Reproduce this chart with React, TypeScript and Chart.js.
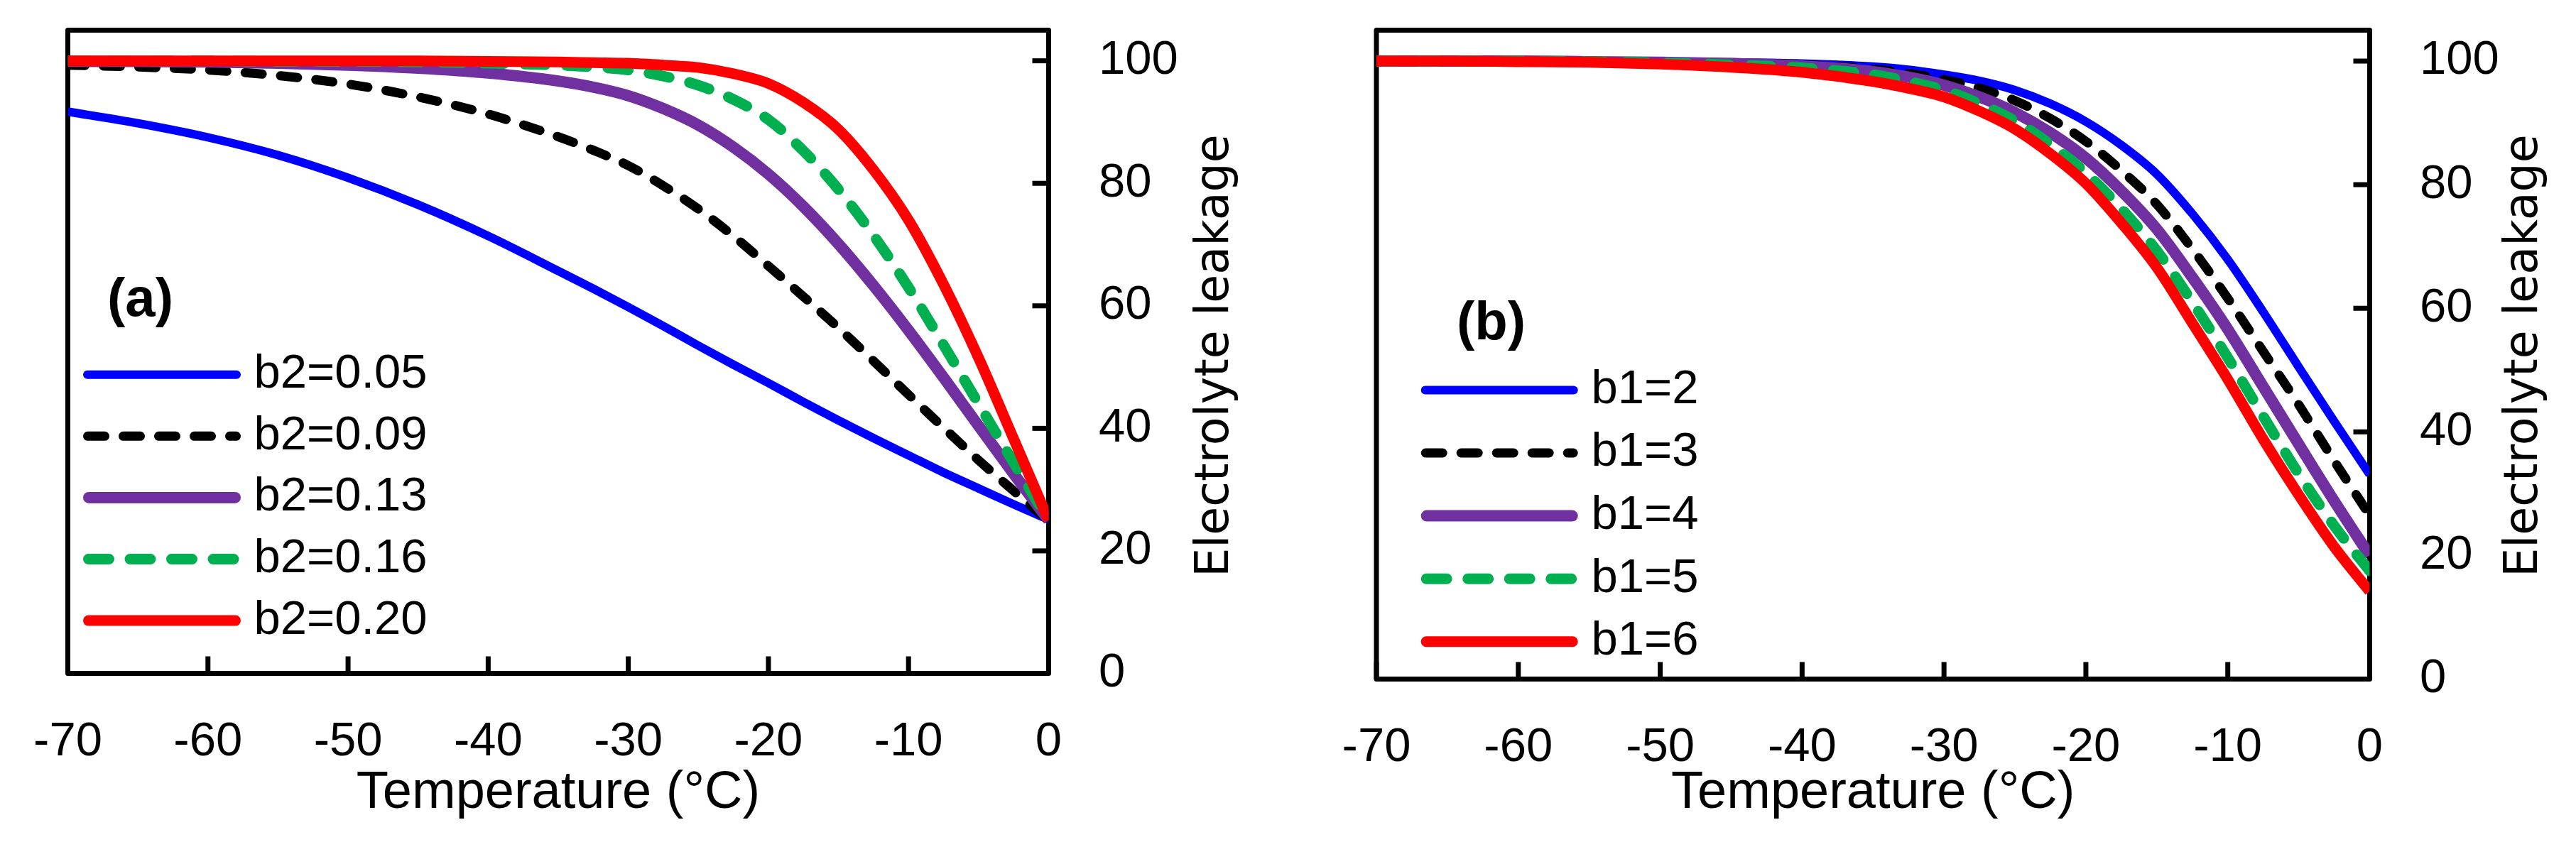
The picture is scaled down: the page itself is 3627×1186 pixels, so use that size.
import React, { useEffect, useRef } from "react";
import { Chart, registerables } from "chart.js";

Chart.register(...registerables);

// ---------------- data ----------------
const temperatureC = [
  -70, -65, -60, -55, -50, -45, -40, -35, -32.5, -30, -27.5, -25, -22.5, -20, -17.5, -15, -12.5, -10, -7.5, -5, -2.5, 0,
];
const xTickValues = [-70, -60, -50, -40, -30, -20, -10, 0];
const yTickValues = [0, 20, 40, 60, 80, 100];

// panel (a): varying b2
const seriesLabelsA = ["b2=0.05", "b2=0.09", "b2=0.13", "b2=0.16", "b2=0.20"];
const leakageB2_005 = [91.7, 89.8, 87.5, 84.6, 80.9, 76.5, 71.4, 65.7, 62.8, 59.8, 56.7, 53.5, 50.4, 47.4, 44.3, 41.3, 38.4, 35.6, 32.8, 30.2, 27.6, 25.1];
const leakageB2_009 = [99.3, 99.0, 98.5, 97.6, 96.2, 94.1, 91.3, 87.6, 85.4, 82.9, 79.6, 75.8, 71.4, 66.5, 61.5, 56.4, 51.0, 45.5, 40.1, 34.8, 29.8, 24.9];
const leakageB2_013 = [99.9, 99.9, 99.8, 99.6, 99.3, 98.8, 98.0, 96.7, 95.7, 94.3, 92.2, 89.5, 85.9, 81.5, 76.2, 70.1, 63.3, 56.0, 48.3, 40.4, 32.6, 25.0];
const leakageB2_016 = [100, 100, 100, 99.9, 99.9, 99.8, 99.6, 99.3, 99.0, 98.5, 97.5, 96.0, 93.7, 90.4, 85.3, 79.0, 71.5, 63.0, 53.6, 44.0, 34.4, 25.0];
const leakageB2_020 = [100, 100, 100, 100, 100, 100, 99.9, 99.8, 99.7, 99.6, 99.3, 98.9, 97.9, 96.3, 93.2, 88.8, 82.2, 74.0, 63.5, 51.5, 38.3, 25.0];

// panel (b): varying b1
const seriesLabelsB = ["b1=2", "b1=3", "b1=4", "b1=5", "b1=6"];
const leakageB1_2 = [100, 100, 100, 100, 99.9, 99.8, 99.6, 99.1, 98.6, 97.8, 96.8, 95.3, 93.1, 90.2, 86.4, 81.7, 75.3, 67.9, 59.4, 50.5, 41.7, 33.1];
const leakageB1_3 = [100, 100, 100, 99.9, 99.8, 99.7, 99.4, 98.7, 98.0, 97.0, 95.6, 93.6, 90.7, 87.0, 82.3, 76.8, 69.6, 61.6, 53.0, 44.4, 35.3, 26.5];
const leakageB1_4 = [100, 100, 100, 99.9, 99.8, 99.6, 99.2, 98.3, 97.4, 96.1, 94.2, 91.7, 88.4, 84.3, 79.0, 72.8, 65.0, 56.6, 47.3, 38.0, 28.8, 20.0];
const leakageB1_5 = [100, 100, 100, 99.9, 99.7, 99.4, 98.9, 97.8, 96.7, 95.3, 93.1, 90.3, 86.5, 81.9, 76.1, 69.3, 61.0, 52.0, 42.5, 33.2, 24.8, 17.5];
const leakageB1_6 = [100, 100, 99.9, 99.8, 99.5, 99.0, 98.2, 96.7, 95.6, 94.2, 91.9, 89.0, 85.0, 80.2, 73.8, 66.6, 57.6, 48.5, 38.8, 29.8, 21.4, 14.2];

const xAxisTitle = "Temperature (°C)";
const yAxisTitle = "Electrolyte leakage";
const panelTagA = "(a)";
const panelTagB = "(b)";

// ---------------- styles / layout ----------------
const SANS = "'Liberation Sans', Arial, sans-serif";
const DEJAVU = "'DejaVu Sans', Verdana, sans-serif";
const PAGE_W = 3627;
const PAGE_H = 1186;

const LINE_STYLES = [
  { color: "#0000FF", width: 12, dash: [] as number[] },
  { color: "#000000", width: 13, dash: [24, 26] },
  { color: "#7030A0", width: 16, dash: [] as number[] },
  { color: "#00B050", width: 15, dash: [29, 29.5] },
  { color: "#FF0000", width: 15, dash: [] as number[] },
];

type PanelLayout = {
  offsetX: number;
  width: number;
  area: { left: number; top: number; right: number; bottom: number };
  legend: { x1: number; x2: number; textX: number; y0: number; dy: number };
  tag: { x: number; y: number; text: string };
  yTitle: { x: number; y: number; text: string };
};

const PANEL_A: PanelLayout = {
  offsetX: 0,
  width: 1800,
  area: { left: 95.5, top: 42.5, right: 1476.5, bottom: 948.5 },
  legend: { x1: 117, x2: 339, textX: 357.5, y0: 527.7, dy: 86.6 },
  tag: { x: 197.5, y: 444.5, text: panelTagA },
  yTitle: { x: 1729, y: 501, text: yAxisTitle },
};

const PANEL_B: PanelLayout = {
  offsetX: 1800,
  width: 1827,
  area: { left: 138, top: 42.5, right: 1536.5, bottom: 956.5 },
  legend: { x1: 200.7, x2: 421.7, textX: 440.5, y0: 549.4, dy: 88.6 },
  tag: { x: 299.5, y: 477.5, text: panelTagB },
  yTitle: { x: 1772, y: 501, text: yAxisTitle },
};

const decorPlugin = {
  id: "panelDecor",
  beforeDatasetsDraw(chart: any) {
    const { ctx, chartArea: a } = chart;
    const xs = chart.scales.x;
    const ys = chart.scales.y;
    ctx.save();
    ctx.strokeStyle = "#000";
    ctx.lineWidth = 7;
    ctx.lineJoin = "round";
    ctx.strokeRect(a.left, a.top, a.right - a.left, a.bottom - a.top);
    ctx.lineCap = "butt";
    for (const t of xs.ticks) {
      const px = xs.getPixelForValue(t.value);
      ctx.beginPath();
      ctx.moveTo(px, a.bottom);
      ctx.lineTo(px, a.bottom - 24);
      ctx.stroke();
    }
    for (const t of ys.ticks) {
      const py = ys.getPixelForValue(t.value);
      ctx.beginPath();
      ctx.moveTo(a.right, py);
      ctx.lineTo(a.right - 23, py);
      ctx.stroke();
    }
    ctx.restore();
  },
  afterDatasetsDraw(chart: any, _args: any, opts: any) {
    const { ctx } = chart;
    const L = opts.legend;
    ctx.save();
    chart.data.datasets.forEach((ds: any, i: number) => {
      const y = L.y0 + i * L.dy;
      ctx.strokeStyle = ds.borderColor;
      ctx.lineWidth = ds.borderWidth;
      ctx.lineCap = "round";
      ctx.setLineDash(ds.borderDash || []);
      ctx.beginPath();
      ctx.moveTo(L.x1 + ds.borderWidth / 2, y);
      ctx.lineTo(L.x2 - ds.borderWidth / 2, y);
      ctx.stroke();
      ctx.setLineDash([]);
      ctx.fillStyle = "#000";
      ctx.font = `67px ${SANS}`;
      ctx.textAlign = "left";
      ctx.textBaseline = "middle";
      ctx.fillText(ds.label, L.textX, y);
    });
    ctx.fillStyle = "#000";
    ctx.font = `bold 76px ${SANS}`;
    ctx.textAlign = "center";
    ctx.textBaseline = "alphabetic";
    ctx.fillText(opts.tag.text, opts.tag.x, opts.tag.y);

    ctx.translate(opts.yTitle.x, opts.yTitle.y);
    ctx.rotate(-Math.PI / 2);
    ctx.font = `65px ${DEJAVU}`;
    ctx.textAlign = "center";
    ctx.textBaseline = "alphabetic";
    ctx.fillText(opts.yTitle.text, 0, 0);
    ctx.restore();
  },
};

function zeroPadding(s: any) {
  s.paddingLeft = 0;
  s.paddingRight = 0;
  s.paddingTop = 0;
  s.paddingBottom = 0;
}

function Panel({ layout, labels, series }: { layout: PanelLayout; labels: string[]; series: number[][] }) {
  const ref = useRef<HTMLCanvasElement>(null);
  useEffect(() => {
    const canvas = ref.current;
    if (!canvas) return;
    const { area, width } = layout;
    const chart = new Chart(canvas, {
      type: "line",
      data: {
        datasets: series.map((vals, i) => ({
          label: labels[i],
          data: temperatureC.map((t, j) => ({ x: t, y: vals[j] })),
          borderColor: LINE_STYLES[i].color,
          backgroundColor: LINE_STYLES[i].color,
          borderWidth: LINE_STYLES[i].width,
          borderDash: LINE_STYLES[i].dash,
          borderCapStyle: LINE_STYLES[i].dash.length ? "round" : "butt",
          borderJoinStyle: "round",
          pointRadius: 0,
          pointHoverRadius: 0,
          cubicInterpolationMode: "monotone",
          fill: false,
          order: labels.length - i,
        })) as any,
      },
      options: {
        responsive: false,
        animation: false,
        events: [],
        layout: { autoPadding: false, padding: { left: area.left, top: area.top, right: 0, bottom: 0 } },
        plugins: {
          legend: { display: false },
          tooltip: { enabled: false },
          panelDecor: { legend: layout.legend, tag: layout.tag, yTitle: layout.yTitle },
        } as any,
        scales: {
          x: {
            type: "linear",
            position: "bottom",
            min: -70,
            max: 0,
            border: { display: false },
            grid: { display: false, drawTicks: false },
            afterBuildTicks: (s: any) => {
              s.ticks = xTickValues.map((v) => ({ value: v }));
            },
            afterFit: (s: any) => {
              s.height = PAGE_H - area.bottom;
              zeroPadding(s);
            },
            ticks: {
              autoSkip: false,
              maxRotation: 0,
              minRotation: 0,
              padding: 56.6,
              color: "#000",
              font: { family: SANS, size: 67 },
              callback: (v: any) => String(v),
            },
            title: {
              display: true,
              text: xAxisTitle,
              color: "#000",
              font: { family: SANS, size: 74 },
              padding: { top: 0, bottom: 24.2 },
            },
          },
          y: {
            type: "linear",
            position: "right",
            min: 0,
            max: 105,
            border: { display: false },
            grid: { display: false, drawTicks: false },
            afterBuildTicks: (s: any) => {
              s.ticks = yTickValues.map((v) => ({ value: v }));
            },
            afterFit: (s: any) => {
              s.width = width - area.right;
              zeroPadding(s);
            },
            ticks: {
              autoSkip: false,
              padding: 70.5,
              color: "#000",
              font: { family: SANS, size: 67 },
              callback: (v: any) => String(v),
            },
          },
        } as any,
      },
      plugins: [decorPlugin as any],
    });
    return () => chart.destroy();
  }, []);
  return (
    <canvas
      ref={ref}
      width={layout.width}
      height={PAGE_H}
      style={{ position: "absolute", left: layout.offsetX, top: 0, width: layout.width, height: PAGE_H }}
    />
  );
}

export default function App() {
  return (
    <div
      style={{
        position: "absolute",
        left: 0,
        top: 0,
        width: PAGE_W,
        height: PAGE_H,
        background: "#fff",
        overflow: "hidden",
      }}
    >
      <Panel
        layout={PANEL_A}
        labels={seriesLabelsA}
        series={[leakageB2_005, leakageB2_009, leakageB2_013, leakageB2_016, leakageB2_020]}
      />
      <Panel
        layout={PANEL_B}
        labels={seriesLabelsB}
        series={[leakageB1_2, leakageB1_3, leakageB1_4, leakageB1_5, leakageB1_6]}
      />
    </div>
  );
}
